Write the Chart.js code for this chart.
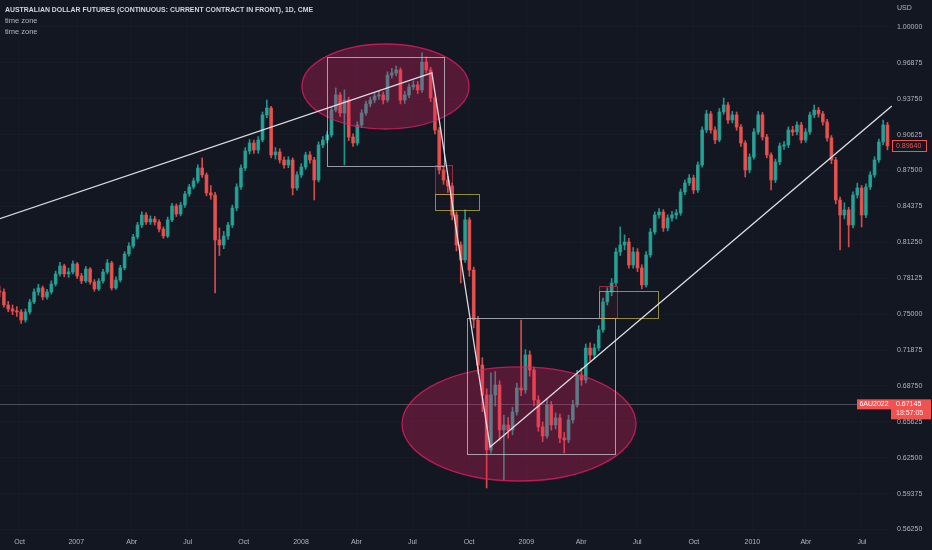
<!DOCTYPE html>
<html><head><meta charset="utf-8">
<script src="https://cdn.jsdelivr.net/npm/chart.js@4.4.1/dist/chart.umd.min.js"></script>
<style>
html,body{margin:0;padding:0;background:#131722;overflow:hidden}
#wrap{position:relative;width:932px;height:550px}
canvas{display:block}
.lg{position:absolute;left:5px;color:#b2b5be;font-family:'Liberation Sans',Arial,sans-serif;font-size:7.5px;line-height:9px;white-space:nowrap;transform-origin:0 50%}
#title{top:5px;font-weight:bold;color:#d1d4dc}
</style></head><body>
<div id="wrap"><canvas id="c" width="932" height="550"></canvas>
<div class="lg" id="title">AUSTRALIAN DOLLAR FUTURES (CONTINUOUS: CURRENT CONTRACT IN FRONT), 1D, CME</div>
<div class="lg" style="top:16px">time zone</div>
<div class="lg" style="top:27px">time zone</div>
</div>
<script>
// ---- data: weekly candles, first week starting 2006-08-28 ----
const firstWeek = '2006-08-28';
const open = [0.7700,
0.7693,0.7580,0.7545,0.7527,0.7519,0.7449,0.7519,0.7606,0.7693,0.7728,
0.7649,0.7693,0.7762,0.7850,0.7919,0.7850,0.7867,0.7937,0.7832,0.7789,
0.7893,0.7780,0.7719,0.7789,0.7867,0.7945,0.7728,0.7797,0.7902,0.8024,
0.8093,0.8172,0.8276,0.8363,0.8302,0.8328,0.8302,0.8241,0.8180,0.8320,
0.8442,0.8372,0.8450,0.8546,0.8607,0.8659,0.8772,0.8712,0.8555,0.8537,
0.8146,0.8102,0.8180,0.8276,0.8424,0.8607,0.8772,0.8920,0.8990,0.8929,
0.9016,0.9234,0.9295,0.8886,0.8912,0.8842,0.8799,0.8842,0.8598,0.8712,
0.8781,0.8886,0.8842,0.8668,0.8973,0.9016,0.9060,0.9277,0.9408,0.9251,
0.9364,0.9042,0.8990,0.9147,0.9251,0.9330,0.9364,0.9399,0.9408,0.9364,
0.9582,0.9600,0.9626,0.9364,0.9408,0.9478,0.9495,0.9452,0.9695,0.9626,
0.9382,0.9103,0.8755,0.8668,0.8616,0.8363,0.8102,0.7972,0.8320,0.7884,
0.7449,0.7057,0.6796,0.6317,0.6796,0.6883,0.6491,0.6535,0.6491,0.6648,
0.6857,0.6840,0.7144,0.7014,0.6753,0.6518,0.6439,0.6709,0.6535,0.6596,
0.6422,0.6404,0.6579,0.6709,0.6970,0.6927,0.7205,0.7144,0.7205,0.7362,
0.7606,0.7693,0.7771,0.8041,0.8102,0.8128,0.7928,0.8041,0.7902,0.7754,
0.8015,0.8215,0.8363,0.8389,0.8250,0.8337,0.8363,0.8381,0.8564,0.8642,
0.8685,0.8581,0.8799,0.9103,0.9243,0.9103,0.9016,0.9260,0.9321,0.9190,
0.9234,0.9129,0.8990,0.8755,0.8868,0.9086,0.9234,0.9042,0.8886,0.8668,
0.8825,0.8964,0.8973,0.9103,0.9086,0.9147,0.9016,0.9086,0.9234,0.9277,
0.9243,0.9173,0.9034,0.8842,0.8494,0.8363,0.8407,0.8276,0.8537,0.8598,
0.8363,0.8607,0.8712,0.8842,0.8999,0.9147];
const close = [
0.7693,0.7580,0.7545,0.7527,0.7519,0.7449,0.7519,0.7606,0.7693,0.7728,
0.7649,0.7693,0.7762,0.7850,0.7919,0.7850,0.7867,0.7937,0.7832,0.7789,
0.7893,0.7780,0.7719,0.7789,0.7867,0.7945,0.7728,0.7797,0.7902,0.8024,
0.8093,0.8172,0.8276,0.8363,0.8302,0.8328,0.8302,0.8241,0.8180,0.8320,
0.8442,0.8372,0.8450,0.8546,0.8607,0.8659,0.8772,0.8712,0.8555,0.8537,
0.8146,0.8102,0.8180,0.8276,0.8424,0.8607,0.8772,0.8920,0.8990,0.8929,
0.9016,0.9234,0.9295,0.8886,0.8912,0.8842,0.8799,0.8842,0.8598,0.8712,
0.8781,0.8886,0.8842,0.8668,0.8973,0.9016,0.9060,0.9277,0.9408,0.9251,
0.9364,0.9042,0.8990,0.9147,0.9251,0.9330,0.9364,0.9399,0.9408,0.9364,
0.9582,0.9600,0.9626,0.9364,0.9408,0.9478,0.9495,0.9452,0.9695,0.9626,
0.9382,0.9103,0.8755,0.8668,0.8616,0.8363,0.8102,0.7972,0.8320,0.7884,
0.7449,0.7057,0.6796,0.6317,0.6796,0.6883,0.6491,0.6535,0.6491,0.6648,
0.6857,0.6840,0.7144,0.7014,0.6753,0.6518,0.6439,0.6709,0.6535,0.6596,
0.6422,0.6404,0.6579,0.6709,0.6970,0.6927,0.7205,0.7144,0.7205,0.7362,
0.7606,0.7693,0.7771,0.8041,0.8102,0.8128,0.7928,0.8041,0.7902,0.7754,
0.8015,0.8215,0.8363,0.8389,0.8250,0.8337,0.8363,0.8381,0.8564,0.8642,
0.8685,0.8581,0.8799,0.9103,0.9243,0.9103,0.9016,0.9260,0.9321,0.9190,
0.9234,0.9129,0.8990,0.8755,0.8868,0.9086,0.9234,0.9042,0.8886,0.8668,
0.8825,0.8964,0.8973,0.9103,0.9086,0.9147,0.9016,0.9086,0.9234,0.9277,
0.9243,0.9173,0.9034,0.8842,0.8494,0.8363,0.8407,0.8276,0.8537,0.8598,
0.8363,0.8607,0.8712,0.8842,0.8999,0.9147,0.8964];
const high = [
0.7745,0.7720,0.7610,0.7580,0.7565,0.7540,0.7545,0.7630,0.7720,0.7760,
0.7745,0.7715,0.7790,0.7875,0.7950,0.7935,0.7900,0.7965,0.7950,0.7855,
0.7915,0.7905,0.7800,0.7810,0.7890,0.7975,0.7960,0.7825,0.7925,0.8045,
0.8120,0.8195,0.8300,0.8390,0.8385,0.8355,0.8350,0.8320,0.8260,0.8345,
0.8465,0.8460,0.8475,0.8570,0.8630,0.8685,0.8800,0.8860,0.8730,0.8620,
0.8560,0.8250,0.8220,0.8300,0.8450,0.8635,0.8800,0.8950,0.9020,0.9015,
0.9045,0.9260,0.9364,0.9310,0.8950,0.8940,0.8870,0.8870,0.8860,0.8740,
0.8810,0.8910,0.8915,0.8865,0.9000,0.9045,0.9090,0.9305,0.9469,0.9430,
0.9452,0.9390,0.9070,0.9175,0.9280,0.9355,0.9390,0.9425,0.9440,0.9435,
0.9610,0.9640,0.9660,0.9645,0.9440,0.9505,0.9530,0.9525,0.9774,0.9740,
0.9650,0.9400,0.9125,0.8790,0.8700,0.8640,0.8390,0.8130,0.8407,0.8340,
0.7910,0.7480,0.7120,0.6850,0.6988,0.7000,0.6920,0.6620,0.6600,0.6690,
0.6900,0.7449,0.7190,0.7180,0.7040,0.6790,0.6560,0.6760,0.6740,0.6640,
0.6630,0.6470,0.6620,0.6750,0.7010,0.7030,0.7240,0.7250,0.7240,0.7400,
0.7640,0.7730,0.7810,0.8075,0.8259,0.8190,0.8160,0.8080,0.8070,0.7930,
0.8045,0.8245,0.8390,0.8420,0.8410,0.8365,0.8395,0.8410,0.8590,0.8670,
0.8715,0.8710,0.8825,0.9130,0.9275,0.9265,0.9130,0.9290,0.9382,0.9345,
0.9265,0.9260,0.9150,0.9010,0.8895,0.9115,0.9265,0.9255,0.9065,0.8905,
0.8850,0.8990,0.9005,0.9130,0.9135,0.9175,0.9170,0.9115,0.9260,0.9321,
0.9300,0.9265,0.9195,0.9055,0.8865,0.8520,0.8470,0.8430,0.8565,0.8640,
0.8620,0.8635,0.8740,0.8870,0.9025,0.9190,0.9170];
const low = [
0.7650,0.7560,0.7520,0.7495,0.7480,0.7420,0.7430,0.7500,0.7590,0.7665,
0.7625,0.7630,0.7675,0.7745,0.7830,0.7825,0.7820,0.7850,0.7810,0.7765,
0.7775,0.7760,0.7700,0.7705,0.7770,0.7850,0.7710,0.7715,0.7780,0.7885,
0.8005,0.8075,0.8155,0.8255,0.8280,0.8280,0.8275,0.8215,0.8160,0.8165,
0.8305,0.8350,0.8355,0.8430,0.8525,0.8590,0.8640,0.8690,0.8530,0.8500,
0.7684,0.8010,0.8070,0.8150,0.8255,0.8400,0.8585,0.8750,0.8895,0.8900,
0.8900,0.9000,0.9210,0.8860,0.8850,0.8815,0.8770,0.8775,0.8537,0.8580,
0.8690,0.8760,0.8815,0.8494,0.8650,0.8950,0.8990,0.9040,0.9260,0.9220,
0.8799,0.9010,0.8960,0.8970,0.9125,0.9230,0.9305,0.9340,0.9370,0.9330,
0.9345,0.9555,0.9575,0.9330,0.9335,0.9385,0.9455,0.9420,0.9430,0.9600,
0.9350,0.9070,0.8720,0.8630,0.8560,0.8320,0.8050,0.7771,0.7950,0.7830,
0.7380,0.6980,0.6650,0.5986,0.6290,0.6700,0.6400,0.6056,0.6420,0.6450,
0.6620,0.6790,0.6810,0.6960,0.6700,0.6480,0.6390,0.6420,0.6490,0.6500,
0.6380,0.6291,0.6380,0.6550,0.6690,0.6880,0.6900,0.7090,0.7110,0.7180,
0.7340,0.7580,0.7660,0.7750,0.8010,0.8060,0.7900,0.7900,0.7870,0.7720,
0.7735,0.7995,0.8195,0.8335,0.8220,0.8225,0.8310,0.8330,0.8360,0.8540,
0.8620,0.8550,0.8560,0.8780,0.9080,0.9075,0.8985,0.9000,0.9240,0.9160,
0.9165,0.9100,0.8960,0.8694,0.8730,0.8850,0.9065,0.9015,0.8860,0.8581,
0.8645,0.8800,0.8935,0.8950,0.9055,0.9060,0.8990,0.8995,0.9065,0.9210,
0.9215,0.9145,0.9005,0.8810,0.8460,0.8059,0.8330,0.8085,0.8250,0.8510,
0.8259,0.8340,0.8585,0.8690,0.8820,0.8975,0.8930];

// ---- axis ticks ----
const tickDates = ['2006-10-02','2007-01-02','2007-04-02','2007-07-02','2007-10-01','2008-01-02','2008-04-01','2008-07-01','2008-10-01','2009-01-02','2009-04-01','2009-07-01','2009-10-01','2010-01-04','2010-04-01','2010-07-01'];
const tickLabels = ['Oct','2007','Abr','Jul','Oct','2008','Abr','Jul','Oct','2009','Abr','Jul','Oct','2010','Abr','Jul'];
const priceTicks = [0.5625,0.59375,0.625,0.65625,0.6875,0.71875,0.75,0.78125,0.8125,0.84375,0.875,0.90625,0.9375,0.96875,1.0];

// ---- drawings (week index, price) ----
const trendPoints = [[0,0.8330],[100.3,0.9600],[113.8,0.6343],[207.0,0.9312]];
const ellipses = [[70.16,0.9852,108.91,0.9112],[93.37,0.7040,147.66,0.6047]];
const greyRects = [[75.96,0.9739,103.11,0.8790],[108.45,0.7467,142.78,0.6283]];
const redRects = [[101.02,0.8799,104.96,0.8546],[139.07,0.7745,143.25,0.7467]];
const yellowRects = [[101.02,0.8546,111.23,0.8407],[139.07,0.7702,152.76,0.7467]];
const currentPrice = 0.67145;
const lastPrice = 0.89640;
const contractName = '6AU2022';
const countdown = '18:57:05';

const DAY = 86400000;
const t0 = Date.parse(firstWeek + 'T00:00:00Z');
const tickPos = tickDates.map(d => ((Date.parse(d + 'T00:00:00Z') - t0) / DAY - 2.5) / 7);

const UP = 'rgba(38,166,154,0.88)', DN = 'rgba(239,83,80,0.88)';
const cols = close.map((c, i) => c >= open[i] ? UP : DN);
const FONT = "'Liberation Sans', Arial, sans-serif";

const drawPlugin = {
  id: 'drawings',
  beforeDraw(chart) {
    const c = chart.ctx;
    c.save(); c.fillStyle = '#131722'; c.fillRect(0, 0, chart.width, chart.height); c.restore();
  },
  afterDraw(chart) {
    const { ctx, chartArea: a, scales: { x, y } } = chart;
    const X = v => x.getPixelForValue(v), Y = v => y.getPixelForValue(v);
    ctx.save();
    ctx.beginPath(); ctx.rect(a.left, a.top, a.right - a.left, a.bottom - a.top); ctx.clip();
    // current price line
    const cy = Math.round(Y(currentPrice)) + 0.5;
    ctx.strokeStyle = 'rgba(120,123,134,0.55)'; ctx.lineWidth = 1;
    ctx.beginPath(); ctx.moveTo(a.left, cy); ctx.lineTo(a.right, cy); ctx.stroke();
    const rect = (r, stroke, fill) => {
      const x0 = Math.round(X(r[0])) + 0.5, y0 = Math.round(Y(r[1])) + 0.5;
      const x1 = Math.round(X(r[2])) + 0.5, y1 = Math.round(Y(r[3])) + 0.5;
      if (fill) { ctx.fillStyle = fill; ctx.fillRect(x0, y0, x1 - x0, y1 - y0); }
      ctx.strokeStyle = stroke; ctx.lineWidth = 1; ctx.strokeRect(x0, y0, x1 - x0, y1 - y0);
    };
    ellipses.forEach(e => {
      const x0 = X(e[0]), y0 = Y(e[1]), x1 = X(e[2]), y1 = Y(e[3]);
      ctx.beginPath();
      ctx.ellipse((x0 + x1) / 2, (y0 + y1) / 2, (x1 - x0) / 2, (y1 - y0) / 2, 0, 0, Math.PI * 2);
      ctx.fillStyle = 'rgba(233,30,99,0.30)'; ctx.fill();
      ctx.strokeStyle = 'rgba(233,30,99,0.75)'; ctx.lineWidth = 1.3; ctx.stroke();
    });
    greyRects.forEach(r => rect(r, 'rgba(200,202,210,0.75)', null));
    redRects.forEach(r => rect(r, 'rgba(220,50,80,0.65)', 'rgba(220,50,80,0.08)'));
    yellowRects.forEach(r => rect(r, 'rgba(200,190,70,0.7)', null));
    ctx.strokeStyle = 'rgba(235,236,240,0.92)'; ctx.lineWidth = 1.3;
    ctx.beginPath();
    trendPoints.forEach((p, i) => { const px = X(p[0]), py = Y(p[1]); if (i) ctx.lineTo(px, py); else ctx.moveTo(px, py); });
    ctx.stroke();
    ctx.restore();

    // labels on the price axis
    ctx.save();
    ctx.font = '7px ' + FONT; ctx.textBaseline = 'middle';
    ctx.fillStyle = '#b2b5be'; ctx.textAlign = 'left';
    ctx.fillText('USD', a.right + 5, 8);
    // last price box
    const ly = Y(lastPrice);
    ctx.fillStyle = '#131722'; ctx.fillRect(a.right, ly - 6, 35, 12);
    ctx.strokeStyle = '#ef5350'; ctx.lineWidth = 1; ctx.strokeRect(a.right + 0.5, Math.round(ly - 6) + 0.5, 34, 11);
    ctx.fillStyle = '#ef5350'; ctx.fillText(lastPrice.toFixed(5), a.right + 4, ly);
    // current contract
    const py = Y(currentPrice);
    ctx.fillStyle = '#f05252';
    ctx.fillRect(a.right - 35, py - 5, 34, 10);
    ctx.fillRect(a.right - 1, py - 5, 40, 20);
    ctx.fillStyle = '#ffffff'; ctx.textAlign = 'center';
    ctx.fillText(contractName, a.right - 18, py);
    ctx.textAlign = 'left';
    ctx.fillText(currentPrice.toFixed(5), a.right + 4, py);
    ctx.fillStyle = 'rgba(255,255,255,0.85)';
    ctx.fillText(countdown, a.right + 4, py + 9);
    ctx.restore();
  }
};

const idx = close.map((_, i) => i);
new Chart(document.getElementById('c'), {
  type: 'bar',
  data: {
    datasets: [
      { label: 'wick', data: idx.map(i => ({ x: i, y: [low[i], high[i]] })), backgroundColor: cols, barThickness: 1, grouped: false, order: 2 },
      { label: 'body', data: idx.map(i => ({ x: i, y: [Math.min(open[i], close[i]), Math.max(open[i], close[i])] })), backgroundColor: cols, barThickness: 3, minBarLength: 1, grouped: false, order: 1 }
    ]
  },
  options: {
    responsive: false, animation: false,
    layout: { padding: 0 },
    plugins: { legend: { display: false }, tooltip: { enabled: false }, title: { display: false } },
    scales: {
      x: {
        type: 'linear', min: 0.093, max: 207.05, offset: false,
        grid: { color: 'rgba(42,46,57,0.22)', drawTicks: false, offset: false },
        border: { display: false },
        afterBuildTicks: s => { s.ticks = tickPos.map(v => ({ value: v })); },
        afterFit: s => { s.height = 18; s.paddingLeft = 0; s.paddingRight = 0; },
        ticks: { color: '#b2b5be', font: { size: 7, family: FONT }, padding: 6, maxRotation: 0, autoSkip: false, callback: (v, i) => tickLabels[i] }
      },
      y: {
        type: 'linear', position: 'right', min: 0.5603, max: 1.0235,
        grid: { color: 'rgba(42,46,57,0.22)', drawTicks: false },
        border: { display: false },
        afterBuildTicks: s => { s.ticks = priceTicks.map(v => ({ value: v })); },
        afterFit: s => { s.width = 40; s.paddingTop = 0; s.paddingBottom = 0; },
        ticks: { color: '#b2b5be', font: { size: 7, family: FONT }, padding: 5, callback: v => Number(v).toFixed(5) }
      }
    }
  },
  plugins: [drawPlugin]
});

const t = document.getElementById('title');
const w = t.getBoundingClientRect().width;
if (w > 0) t.style.transform = 'scaleX(' + (308 / w) + ')';
</script>
</body></html>
